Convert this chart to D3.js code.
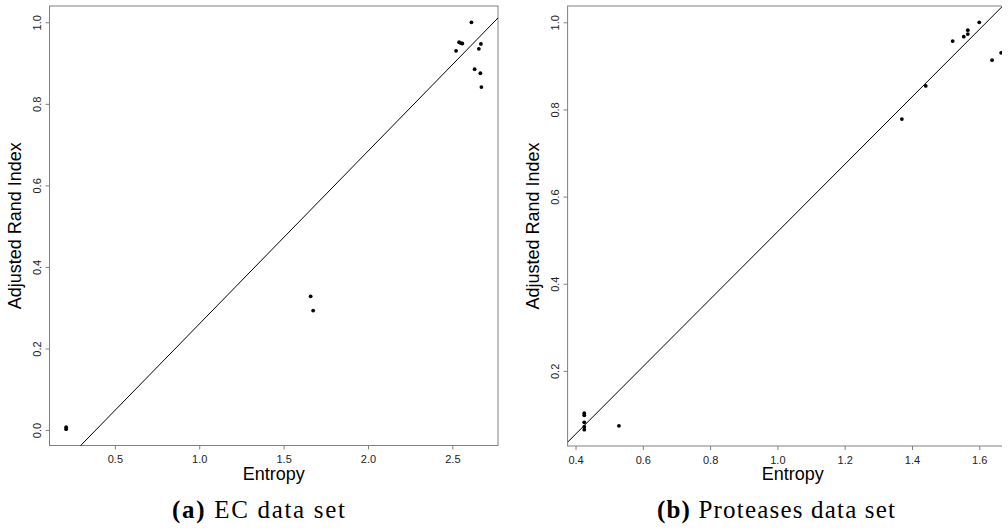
<!DOCTYPE html>
<html>
<head>
<meta charset="utf-8">
<script src="https://cdn.jsdelivr.net/npm/d3@7"></script>
<style>
  html, body { margin: 0; padding: 0; background: #fff; }
  svg { display: block; }
</style>
</head>
<body>
<script>
// EC data set: entropy vs. adjusted Rand index
const ecEntropy = [0.211, 0.211, 1.660, 1.675, 2.522, 2.540, 2.550, 2.559, 2.613, 2.632, 2.657, 2.666, 2.669, 2.672];
const ecARI     = [0.007, 0.002, 0.328, 0.293, 0.930, 0.951, 0.949, 0.948, 1.000, 0.885, 0.935, 0.875, 0.947, 0.841];
const ecFit     = [-0.164, 0.424];   // intercept, slope
const ecXTicks  = [0.5, 1.0, 1.5, 2.0, 2.5];
const ecYTicks  = [0.0, 0.2, 0.4, 0.6, 0.8, 1.0];

// Proteases data set
const prEntropy = [0.426, 0.426, 0.426, 0.426, 0.426, 0.529, 1.370, 1.441, 1.521, 1.554, 1.566, 1.566, 1.600, 1.638, 1.665];
const prARI     = [0.103, 0.098, 0.082, 0.072, 0.065, 0.074, 0.778, 0.854, 0.957, 0.967, 0.973, 0.982, 1.000, 0.913, 0.930];
const prFit     = [-0.255, 0.774];
const prXTicks  = [0.4, 0.6, 0.8, 1.0, 1.2, 1.4, 1.6];
const prYTicks  = [0.2, 0.4, 0.6, 0.8, 1.0];

const xTitle = "Entropy";
const yTitle = "Adjusted Rand Index";
const captions = [["(a)", " EC data set"], ["(b)", " Proteases data set"]];

const W = 1008, H = 529;
const svg = d3.select("body").append("svg").attr("width", W).attr("height", H);

const axisGrey = "#808080";
const sans = "'Liberation Sans', Arial, Helvetica, sans-serif";

// R-style range with 4% padding on each side
function padded(vals) {
  const [lo, hi] = d3.extent(vals);
  const p = (hi - lo) * 0.04;
  return [lo - p, hi + p];
}

function panel(opts) {
  const { xs, ys, fit, xTicks, yTicks, left, right, top, bottom, clipRight, id, caption, capX, capLen } = opts;
  const x = d3.scaleLinear().domain(padded(xs)).range([left, right]);
  const y = d3.scaleLinear().domain(padded(ys)).range([bottom, top]);

  svg.append("clipPath").attr("id", "panel-" + id)
    .append("rect").attr("x", 0).attr("y", 0).attr("width", clipRight).attr("height", H);
  svg.append("clipPath").attr("id", "plot-" + id)
    .append("rect").attr("x", left).attr("y", top).attr("width", right - left).attr("height", bottom - top);

  const g = svg.append("g").attr("clip-path", `url(#panel-${id})`);

  // plot frame
  g.append("rect")
    .attr("x", left).attr("y", top)
    .attr("width", right - left).attr("height", bottom - top)
    .attr("fill", "none").attr("stroke", axisGrey).attr("stroke-width", 1);

  // bottom axis
  const xa = g.append("g").attr("transform", `translate(0,${bottom})`)
    .call(d3.axisBottom(x).tickValues(xTicks).tickSize(4).tickPadding(6).tickFormat(d3.format(".1f")));
  xa.select(".domain").remove();
  xa.selectAll("line").attr("stroke", axisGrey);
  xa.selectAll("text").attr("font-family", sans).attr("font-size", 11).attr("fill", "#222");

  // left axis, labels rotated like R's default
  const ya = g.append("g").attr("transform", `translate(${left},0)`)
    .call(d3.axisLeft(y).tickValues(yTicks).tickSize(4).tickFormat(d3.format(".1f")));
  ya.select(".domain").remove();
  ya.selectAll("line").attr("stroke", axisGrey);
  ya.selectAll("text")
    .attr("font-family", sans).attr("font-size", 11).attr("fill", "#222")
    .attr("x", null).attr("dy", null)
    .attr("text-anchor", "middle")
    .attr("dominant-baseline", "central")
    .attr("transform", "translate(-13,0) rotate(-90)");

  // fitted line, clipped to the plot region
  const [a, b] = fit;
  const [x0, x1] = x.domain();
  g.append("g").attr("clip-path", `url(#plot-${id})`)
    .append("line")
    .attr("x1", x(x0)).attr("y1", y(a + b * x0))
    .attr("x2", x(x1)).attr("y2", y(a + b * x1))
    .attr("stroke", "#000").attr("stroke-width", 1);

  // points
  g.append("g").selectAll("circle")
    .data(d3.zip(xs, ys))
    .join("circle")
    .attr("cx", d => x(d[0])).attr("cy", d => y(d[1]))
    .attr("r", 1.9).attr("fill", "#000");

  // axis titles
  g.append("text")
    .attr("x", (left + right) / 2).attr("y", 480)
    .attr("text-anchor", "middle")
    .attr("font-family", sans).attr("font-size", 18)
    .text(xTitle);
  g.append("text")
    .attr("transform", `translate(${left - 29},${(top + bottom) / 2}) rotate(-90)`)
    .attr("text-anchor", "middle")
    .attr("font-family", sans).attr("font-size", 18)
    .text(yTitle);

  // caption
  const t = svg.append("text")
    .attr("x", capX).attr("y", 518)
    .attr("text-anchor", "middle")
    .attr("font-family", "'Liberation Serif', 'Times New Roman', serif")
    .attr("font-size", 25)
    .attr("textLength", capLen).attr("lengthAdjust", "spacing");
  t.append("tspan").attr("font-weight", "bold").text(caption[0]);
  t.append("tspan").text(caption[1]);
}

panel({ id: "ec", xs: ecEntropy, ys: ecARI, fit: ecFit, xTicks: ecXTicks, yTicks: ecYTicks,
        left: 49.5, right: 498, top: 6, bottom: 445.5, clipRight: 510,
        caption: captions[0], capX: 258.5, capLen: 173 });

panel({ id: "pr", xs: prEntropy, ys: prARI, fit: prFit, xTicks: prXTicks, yTicks: prYTicks,
        left: 567.6, right: 1017.8, top: 6, bottom: 446, clipRight: 1002,
        caption: captions[1], capX: 776, capLen: 238 });
</script>
</body>
</html>
